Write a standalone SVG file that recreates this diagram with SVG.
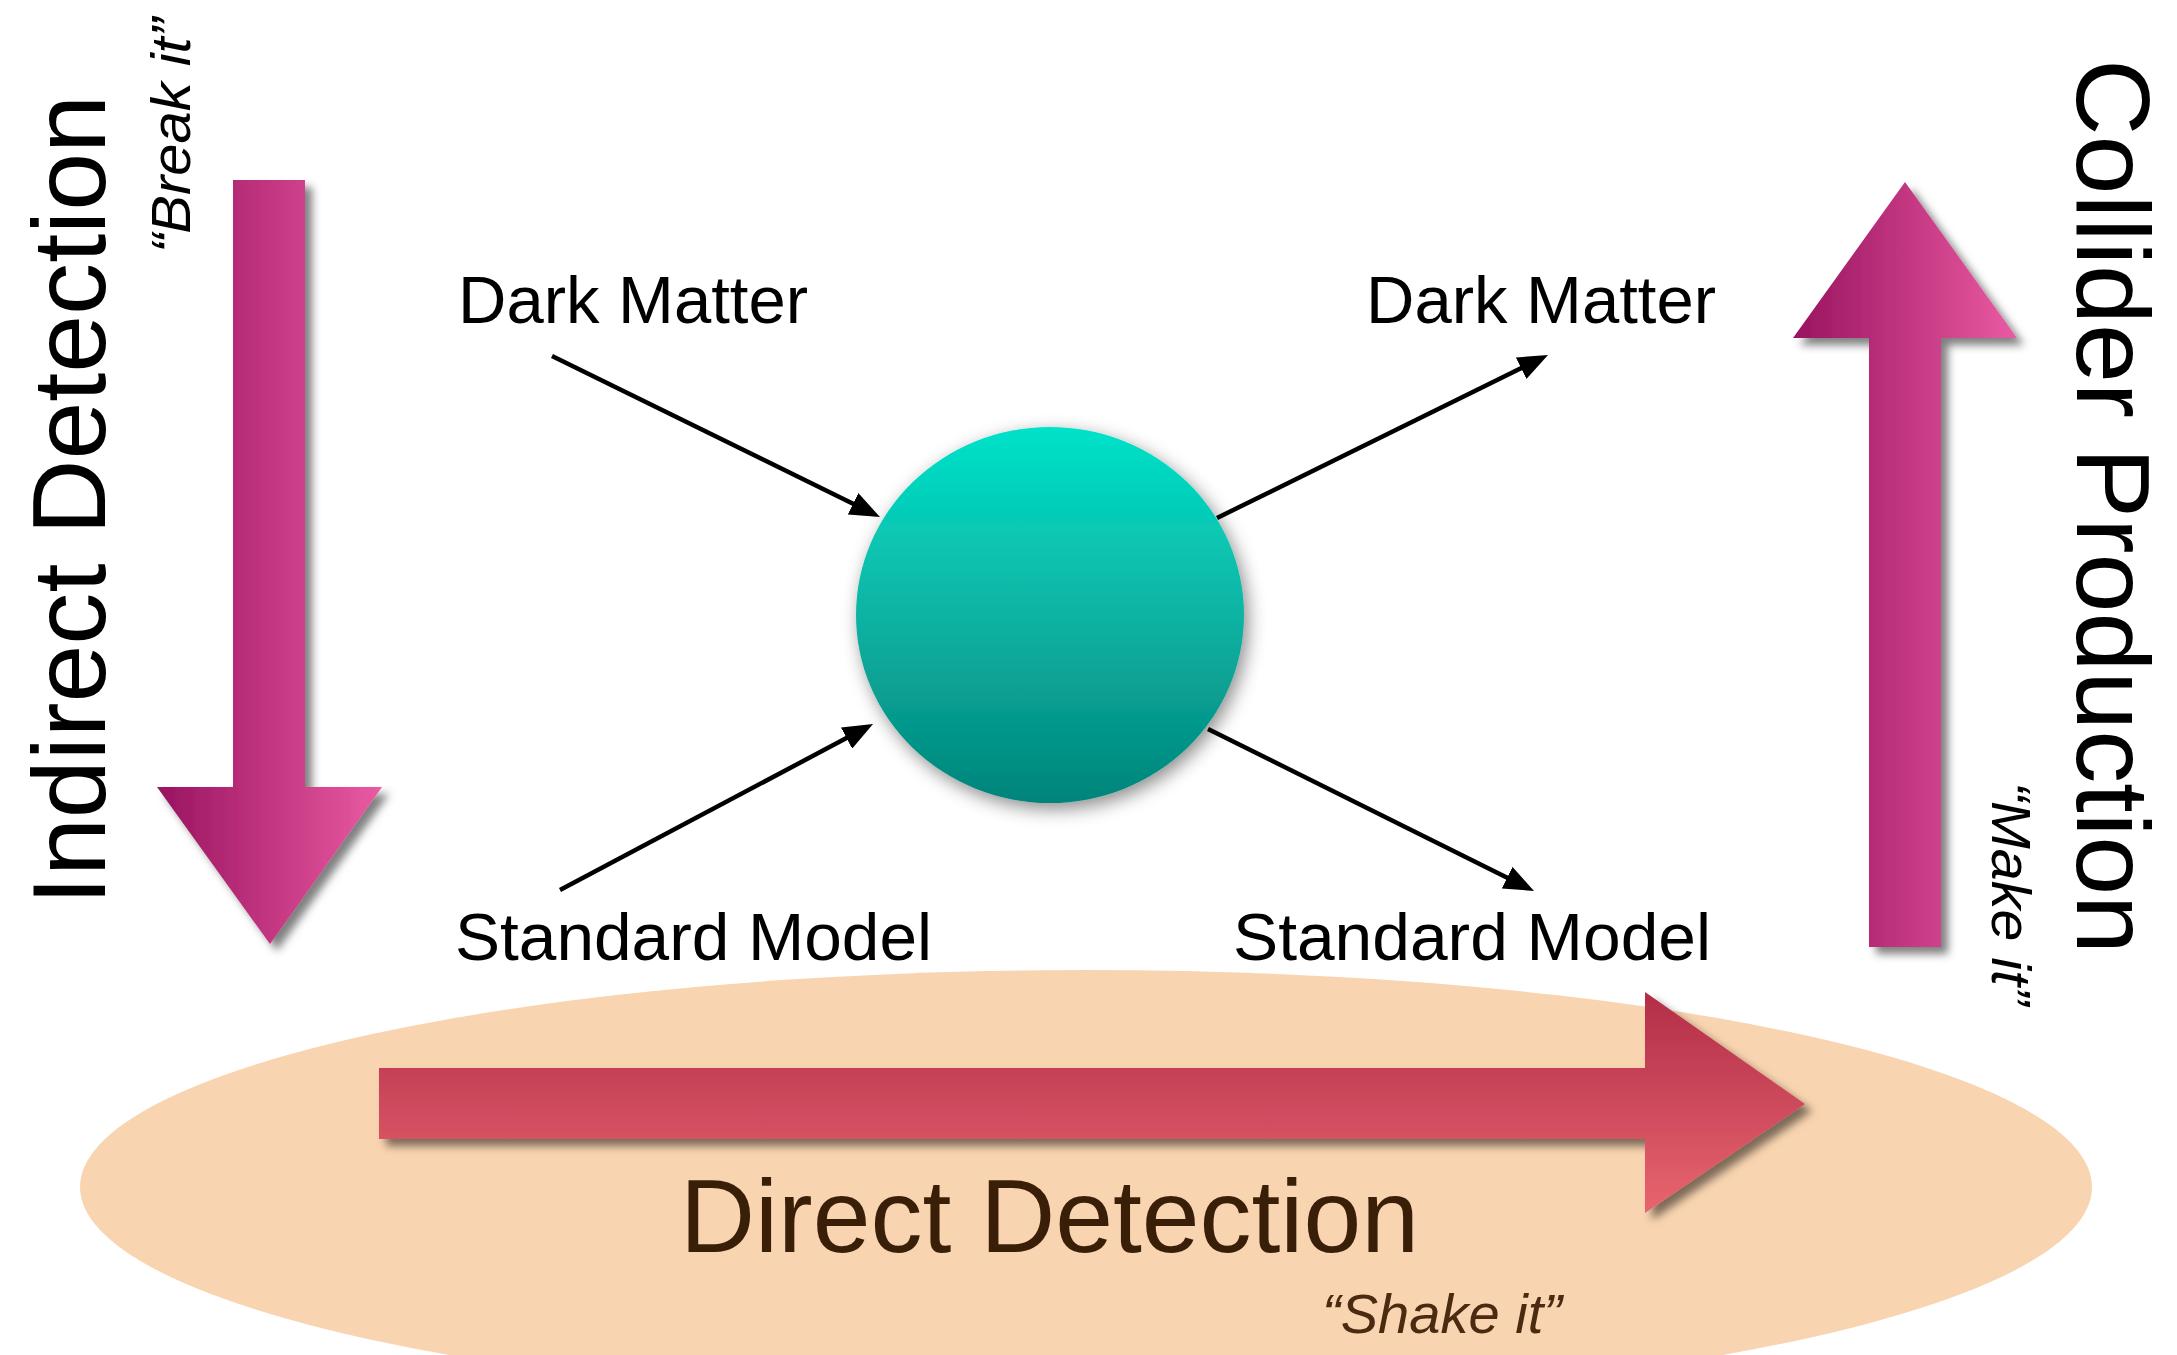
<svg xmlns="http://www.w3.org/2000/svg" width="2177" height="1355" viewBox="0 0 2177 1355">
  <defs>
    <style>
      .lbl { font-family: "Liberation Sans", Arial, sans-serif; fill: #000; }
      .mid { font-size: 67px; }
      .big { font-size: 104px; }
      .quote { font-size: 55px; font-style: italic; }
      .conn { stroke: #000; stroke-width: 4.5; fill: none; marker-end: url(#ah); }
    </style>
    <marker id="ah" markerUnits="userSpaceOnUse" markerWidth="30" markerHeight="24" refX="8" refY="12" orient="auto">
      <path d="M0,0 L30,12 L0,24 z" fill="#000"/>
    </marker>
    <linearGradient id="pink" x1="0" y1="0" x2="1" y2="0">
      <stop offset="0" stop-color="#98145f"/>
      <stop offset="0.5" stop-color="#c23680"/>
      <stop offset="1" stop-color="#ea5ba3"/>
    </linearGradient>
    <linearGradient id="red" x1="0" y1="0" x2="0" y2="1">
      <stop offset="0" stop-color="#b22d48"/>
      <stop offset="1" stop-color="#e8656f"/>
    </linearGradient>
    <linearGradient id="teal" x1="0" y1="0" x2="0" y2="1">
      <stop offset="0" stop-color="#00e2c9"/>
      <stop offset="0.5" stop-color="#0db3a3"/>
      <stop offset="1" stop-color="#00847a"/>
    </linearGradient>
    <filter id="shadow" x="-20%" y="-20%" width="140%" height="140%">
      <feDropShadow dx="7" dy="7" stdDeviation="4" flood-color="#000" flood-opacity="0.5"/>
    </filter>
    <filter id="ballshadow" x="-20%" y="-20%" width="140%" height="140%">
      <feDropShadow dx="4" dy="6" stdDeviation="9" flood-color="#000" flood-opacity="0.45"/>
    </filter>
  </defs>

  <rect width="2177" height="1355" fill="#fff"/>

  <g id="direct-detection">
    <ellipse cx="1086" cy="1187" rx="1006" ry="217" fill="#f9d4b0"/>
    <polygon points="379,1068 1645,1068 1645,992 1805,1104 1645,1213 1645,1139 379,1139" fill="url(#red)" filter="url(#shadow)"/>
    <text class="lbl big" x="680" y="1252" textLength="739" lengthAdjust="spacingAndGlyphs" style="fill:#3a1f08">Direct Detection</text>
    <text class="lbl quote" x="1322" y="1333" textLength="240" lengthAdjust="spacingAndGlyphs" style="fill:#4a2a10">“Shake it”</text>
  </g>

  <g id="indirect-detection">
    <polygon points="233,180 305,180 305,787 382,787 270,944 157,787 233,787" fill="url(#pink)" filter="url(#shadow)"/>
    <text class="lbl big" transform="translate(105,905) rotate(-90)" textLength="810" lengthAdjust="spacingAndGlyphs">Indirect Detection</text>
    <text class="lbl quote" transform="translate(190,253) rotate(-90)" textLength="235" lengthAdjust="spacingAndGlyphs">“Break it”</text>
  </g>

  <g id="collider-production">
    <polygon points="1869,947 1941,947 1941,338 2017,338 1905,182 1793,338 1869,338" fill="url(#pink)" filter="url(#shadow)"/>
    <text class="lbl big" transform="translate(2077,59) rotate(90)" textLength="895" lengthAdjust="spacingAndGlyphs">Collider Production</text>
    <text class="lbl quote" transform="translate(1992,782) rotate(90)" textLength="223" lengthAdjust="spacingAndGlyphs">“Make it”</text>
  </g>

  <g id="interaction">
    <ellipse cx="1050" cy="615" rx="194" ry="188" fill="url(#teal)" filter="url(#ballshadow)"/>
  </g>

  <g id="dm-in">
    <text class="lbl mid" x="458" y="323" textLength="350" lengthAdjust="spacingAndGlyphs">Dark Matter</text>
  </g>
  <g id="dm-out">
    <text class="lbl mid" x="1366" y="323" textLength="350" lengthAdjust="spacingAndGlyphs">Dark Matter</text>
  </g>
  <g id="sm-in">
    <text class="lbl mid" x="455" y="960" textLength="477" lengthAdjust="spacingAndGlyphs">Standard Model</text>
  </g>
  <g id="sm-out">
    <text class="lbl mid" x="1233" y="960" textLength="478" lengthAdjust="spacingAndGlyphs">Standard Model</text>
  </g>

  <g id="connectors">
    <line class="conn" x1="552" y1="356" x2="860.2" y2="507.3"/>
    <line class="conn" x1="1217" y1="518" x2="1528.3" y2="364.7"/>
    <line class="conn" x1="560" y1="890" x2="853.6" y2="734.3"/>
    <line class="conn" x1="1208" y1="729" x2="1514.3" y2="881.2"/>
  </g>
</svg>
